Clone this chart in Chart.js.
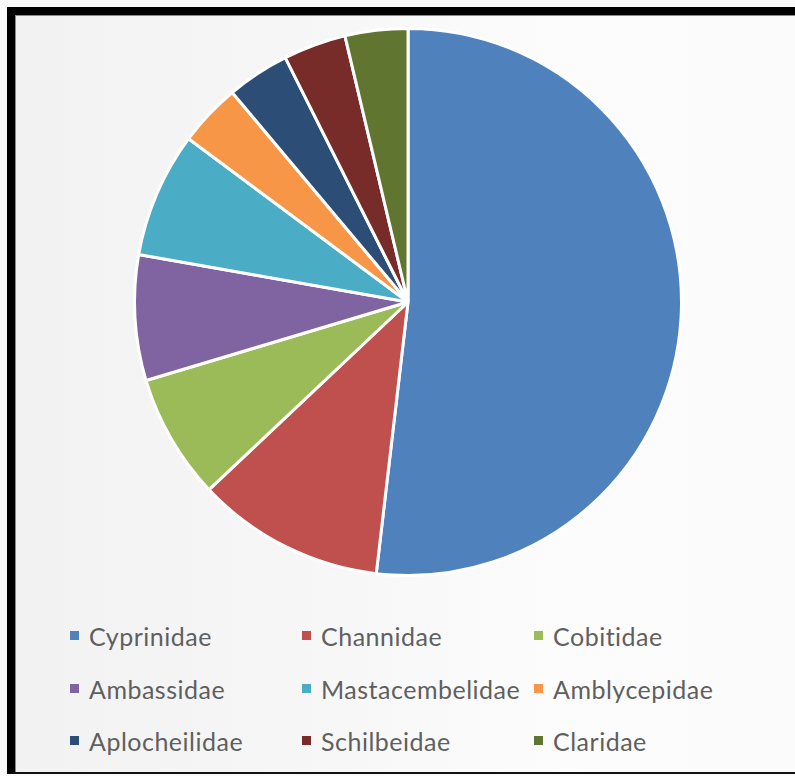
<!DOCTYPE html>
<html>
<head>
<meta charset="utf-8">
<script src="https://cdn.jsdelivr.net/npm/chart.js@4/dist/chart.umd.min.js"></script>
<style>
  html, body { margin: 0; padding: 0; }
  body { width: 795px; height: 776px; position: relative; overflow: hidden; background: #fafafa; }
  .frame {
    position: absolute; left: 7px; top: 7px; width: 788px; height: 767px;
    border-left: 8px solid #000; border-top: 8px solid #000; border-bottom: 2px solid #111;
    box-sizing: border-box;
    background: linear-gradient(90deg, #f2f2f2 0%, #f6f6f6 35%, #fcfcfc 70%, #fbfbfb 100%);
  }
  .frame::before { content: ""; position: absolute; left: 0; top: 0; right: 0; bottom: 0;
    border-left: 1px solid #8a8a8a; border-top: 1px solid #8a8a8a; }
  #pie { position: absolute; left: 128px; top: 22px; }
  #legend { position: absolute; left: 0; top: 0; font-family: Lato, sans-serif; font-size: 25px;
    letter-spacing: 0.5px; color: #5f5f5f; }
  .item { position: absolute; white-space: nowrap; line-height: 26px; }
  .box { position: absolute; left: 0; top: 8px; width: 9px; height: 9px; }
  .lbl { position: absolute; left: 19px; top: 0; }
</style>
</head>
<body>
<div class="frame"></div>
<canvas id="pie" width="560" height="560"></canvas>
<div id="legend"></div>
<script>
const families = ['Cyprinidae', 'Channidae', 'Cobitidae', 'Ambassidae', 'Mastacembelidae',
                  'Amblycepidae', 'Aplocheilidae', 'Schilbeidae', 'Claridae'];
const speciesCount = [14, 3, 2, 2, 2, 1, 1, 1, 1];
const sliceColors = ['#4F81BD', '#C0504D', '#9BBB59', '#8064A2', '#4BACC6',
                     '#F79646', '#2C4D75', '#772C2A', '#5F7530'];

const chart = new Chart(document.getElementById('pie'), {
    type: 'pie',
    data: {
        labels: families,
        datasets: [{
            data: speciesCount,
            backgroundColor: sliceColors,
            borderColor: '#ffffff',
            borderWidth: 3
        }]
    },
    options: {
        responsive: false,
        animation: false,
        layout: { padding: 5 },
        plugins: { legend: { display: false }, tooltip: { enabled: false } }
    }
});

// legend laid out in a 3 column grid like the original
const colX = [70, 302, 534];
const rowY = [623, 676, 728];
const legend = document.getElementById('legend');
chart.options.plugins.legend.labels.generateLabels(chart).forEach((it, i) => {
    const d = document.createElement('div');
    d.className = 'item';
    d.style.left = colX[i % 3] + 'px';
    d.style.top = rowY[Math.floor(i / 3)] + 'px';
    d.innerHTML = `<span class="box" style="background:${it.fillStyle}"></span><span class="lbl">${it.text}</span>`;
    legend.appendChild(d);
});
</script>
</body>
</html>
